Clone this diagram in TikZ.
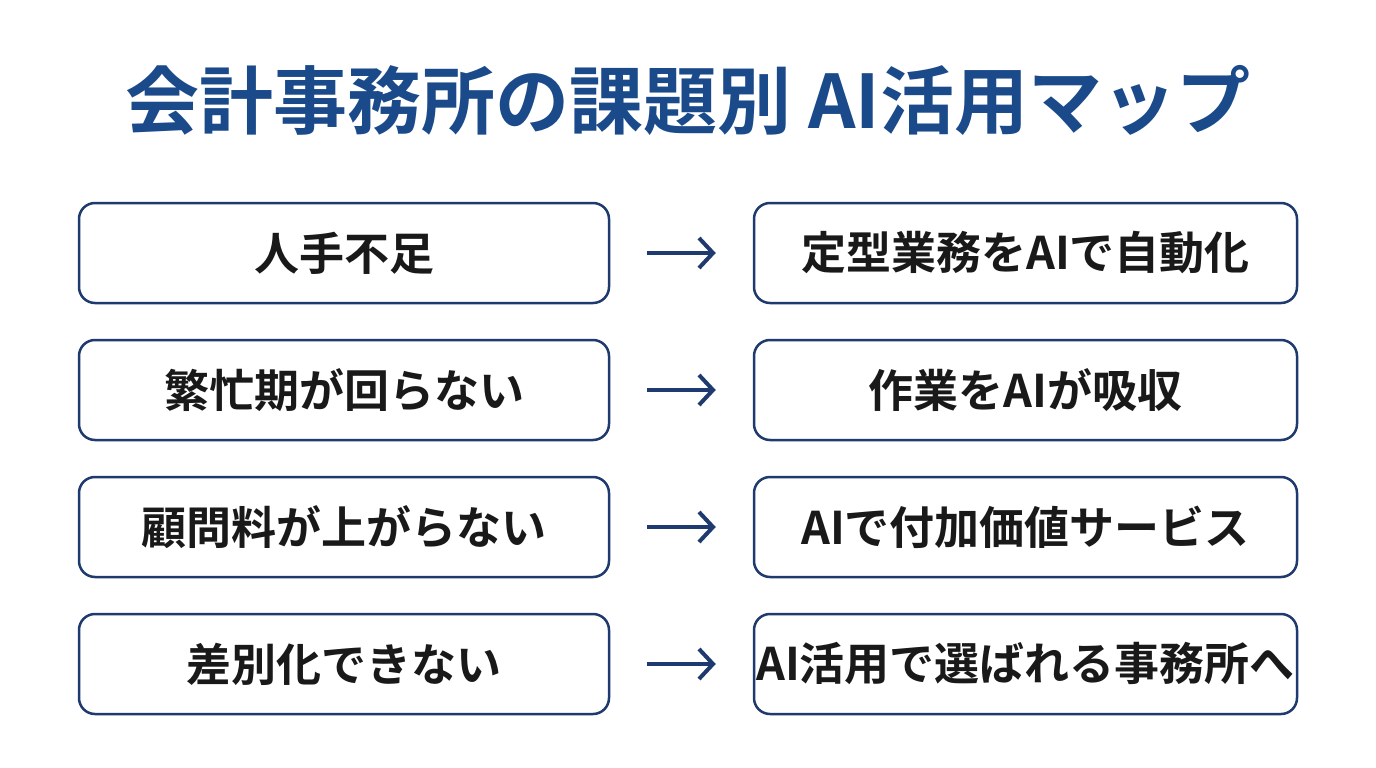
\documentclass[tikz,border=0pt]{standalone}
\usepackage{fontspec}
\setmainfont{Noto Sans CJK JP}[BoldFont={* Bold}]
\usetikzlibrary{arrows.meta}
\definecolor{navy}{HTML}{1F3A6E}
\definecolor{titleblue}{HTML}{1A4A8A}
\begin{document}
\begin{tikzpicture}[x=1pt,y=-1pt,
  box/.style={draw=navy,line width=2.5pt,rounded corners=16pt,fill=white,minimum height=100pt,inner sep=0pt,font=\fontsize{45}{50}\selectfont\bfseries,text=black!90},
  lbox/.style={box,minimum width=530pt},
  rbox/.style={box,minimum width=543pt},
  arr/.style={draw=navy,line width=4pt,-{Straight Barb[length=14pt,width=30pt,line width=4pt]}}]
\fill[white] (0,0) rectangle (1376,768);
\useasboundingbox (0,0) rectangle (1376,768);
\node[font=\fontsize{74}{84}\selectfont\bfseries,text=titleblue] (title) at (688,100) {会計事務所の課題別 AI活用マップ};
\foreach \i/\y/\l/\r in {1/253/人手不足/定型業務をAIで自動化,2/390/繁忙期が回らない/作業をAIが吸収,3/527/顧問料が上がらない/AIで付加価値サービス,4/664/差別化できない/AI活用で選ばれる事務所へ}{
  \node[lbox] (l\i) at (344,\y) {\l};
  \node[rbox] (r\i) at (1025.5,\y) {\r};
  \draw[arr] ([xshift=37pt]l\i.east) -- ([xshift=-37pt]r\i.west);
}
\end{tikzpicture}
\end{document}
